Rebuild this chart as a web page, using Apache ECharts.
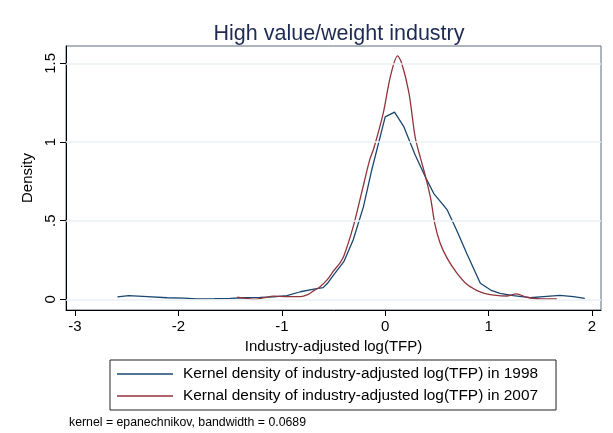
<!DOCTYPE html>
<html>
<head>
<meta charset="utf-8">
<script src="https://cdn.jsdelivr.net/npm/echarts@6/dist/echarts.min.js"></script>
<style>
  html, body { margin: 0; padding: 0; background: #fff; }
  #chart { width: 613px; height: 433px; }
</style>
</head>
<body>
<div id="chart"></div>
<script>
const xTicks = [-3, -2, -1, 0, 1, 2];
const yTicks = [0, 0.5, 1, 1.5];

const x1998 = [-2.59, -2.48, -2.30, -2.11, -1.95, -1.82, -1.65, -1.50, -1.35, -1.21, -1.08, -0.95, -0.82, -0.69, -0.60, -0.56, -0.50, -0.40, -0.31, -0.21, -0.13, 0.00, 0.09, 0.18, 0.29, 0.40, 0.47, 0.60, 0.69, 0.79, 0.92, 1.02, 1.11, 1.24, 1.40, 1.53, 1.69, 1.82, 1.93];
const d1998 = [0.015, 0.023, 0.017, 0.010, 0.008, 0.003, 0.004, 0.006, 0.010, 0.012, 0.016, 0.023, 0.048, 0.064, 0.074, 0.100, 0.154, 0.239, 0.377, 0.589, 0.822, 1.16, 1.19, 1.097, 0.917, 0.762, 0.672, 0.568, 0.44, 0.29, 0.102, 0.059, 0.038, 0.023, 0.010, 0.017, 0.025, 0.017, 0.006];

const x2007 = [-1.43, -1.35, -1.27, -1.17, -1.08, -0.95, -0.82, -0.75, -0.69, -0.63, -0.56, -0.50, -0.44, -0.40, -0.31, -0.23, -0.15, -0.11, -0.02, 0.05, 0.12, 0.16, 0.23, 0.29, 0.34, 0.39, 0.44, 0.48, 0.53, 0.60, 0.69, 0.79, 0.89, 0.95, 1.05, 1.18, 1.27, 1.37, 1.50, 1.66];
const d2007 = [0.013, 0.006, 0.000, 0.010, 0.020, 0.017, 0.017, 0.030, 0.055, 0.080, 0.125, 0.180, 0.229, 0.275, 0.460, 0.672, 0.886, 0.960, 1.18, 1.415, 1.547, 1.50, 1.31, 1.03, 0.90, 0.78, 0.64, 0.48, 0.36, 0.26, 0.17, 0.095, 0.055, 0.040, 0.027, 0.021, 0.034, 0.013, 0.002, 0.002];

const name1998 = "Kernel density of industry-adjusted log(TFP) in 1998";
const name2007 = "Kernal density of industry-adjusted log(TFP) in 2007";

const font = "'Liberation Sans', Arial, sans-serif";
const chart = echarts.init(document.getElementById("chart"));

const pairs = (xs, ys) => xs.map((x, i) => [x, ys[i]]);

const option = {
  backgroundColor: "#fff",
  animation: false,
  title: {
    text: "High value/weight industry",
    left: 334,
    top: 18,
    textAlign: "center",
    textStyle: { fontFamily: font, fontSize: 21.5, fontWeight: "normal", color: "#1e2b52" },
  },
  grid: {
    left: 66, right: 12, top: 46, bottom: 123,
    show: true, borderColor: "#5d6b7d", borderWidth: 1, backgroundColor: "#fff",
  },
  legend: {
    orient: "vertical",
    left: 110,
    top: 360,
    padding: [6, 18, 6, 7],
    icon: "rect",
    itemWidth: 56,
    itemHeight: 1.5,
    itemGap: 6,
    borderColor: "#222",
    borderWidth: 1,
    textStyle: { fontFamily: font, fontSize: 15.4, lineHeight: 16, color: "#000", padding: [0, 0, 0, 5] },
    data: [name1998, name2007],
  },
  xAxis: {
    type: "value",
    min: -3.087,
    max: 2.087,
    name: "Industry-adjusted log(TFP)",
    nameLocation: "middle",
    nameGap: 24,
    nameTextStyle: { fontFamily: font, fontSize: 15, color: "#000" },
    axisLine: { show: true, onZero: false, lineStyle: { color: "#000", width: 1 } },
    axisTick: { show: true, customValues: xTicks, length: 6, lineStyle: { color: "#000" } },
    axisLabel: { customValues: xTicks, fontFamily: font, fontSize: 15, color: "#000", margin: 9 },
    splitLine: { show: false },
  },
  yAxis: {
    type: "value",
    min: -0.068,
    max: 1.61,
    name: "Density",
    nameLocation: "middle",
    nameGap: 26,
    nameTextStyle: { fontFamily: font, fontSize: 15, color: "#000" },
    axisLine: { show: true, onZero: false, lineStyle: { color: "#000", width: 1 } },
    axisTick: { show: true, customValues: yTicks, length: 6, lineStyle: { color: "#000" } },
    axisLabel: {
      customValues: yTicks,
      rotate: 90,
      fontFamily: font, fontSize: 15, color: "#000", margin: 8,
      formatter: (v) => (v === 0 ? "0" : String(v).replace(/^0\./, ".")),
    },
    splitLine: { show: false },
  },
  series: [
    {
      name: "grid",
      type: "line",
      data: [],
      z: 1,
      markLine: {
        silent: true,
        symbol: "none",
        label: { show: false },
        lineStyle: { color: "#eaf1f3", width: 1.5, type: "solid" },
        data: yTicks.map((v) => ({ yAxis: v })),
      },
    },
    {
      name: name1998,
      type: "line",
      data: pairs(x1998, d1998),
      symbol: "none",
      z: 3,
      lineStyle: { color: "#1a476f", width: 1.3 },
      itemStyle: { color: "#1a476f" },
    },
    {
      name: name2007,
      type: "line",
      data: pairs(x2007, d2007),
      symbol: "none",
      smooth: 0.3,
      z: 3,
      lineStyle: { color: "#90353b", width: 1.3 },
      itemStyle: { color: "#90353b" },
    },
  ],
  graphic: [
    {
      type: "text",
      left: 69,
      top: 417,
      style: { text: "kernel = epanechnikov, bandwidth = 0.0689", font: "12.3px " + font, fill: "#000" },
    },
  ],
};

chart.setOption(option);
</script>
</body>
</html>
